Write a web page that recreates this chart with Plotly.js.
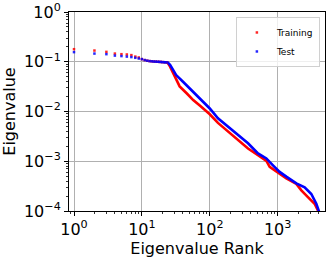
<!DOCTYPE html>
<html>
<head>
<meta charset="utf-8">
<script src="https://cdn.plot.ly/plotly-3.0.1.min.js"></script>
<style>html,body{margin:0;padding:0;background:#fff;}#chart{width:332px;height:260px;}</style>
</head>
<body>
<div id="chart"></div>
<script>
// Leading (sparse) eigenvalues, ranks 1..23
var headRanks = [1,2,3,4,5,6,7,8,9,10,11,12,13,14,15,16,17,18,19,20,21,22,23];
var trainHead = [0.179,0.168,0.158,0.146,0.142,0.140,0.136,0.127,0.122,0.113,0.108,0.105,0.103,0.102,0.101,0.1005,0.100,0.0995,0.099,0.0985,0.098,0.0978,0.0975];
var testHead  = [0.156,0.146,0.142,0.133,0.130,0.127,0.124,0.120,0.116,0.113,0.108,0.105,0.103,0.102,0.101,0.1005,0.100,0.0995,0.099,0.0985,0.098,0.0978,0.0975];

// Dense tail
var trainTailRanks = [23,24,26,31,36,46,57,72,90,100,132,186,261,366,513,682,763,957,1342,1884,2233,2790,3499,3916,4150];
var trainTail      = [0.0975,0.095,0.080,0.050,0.032,0.023,0.017,0.0130,0.0102,0.0088,0.0059,0.0039,0.0027,0.0018,0.00133,0.00102,0.00077,0.00061,0.00045,0.00035,0.00026,0.00019,0.00014,0.000103,0.00008];
var testTailRanks  = [23,24,26,32,40,51,64,80,100,132,186,261,366,513,682,853,1069,1342,1884,2495,3131,3710,4150];
var testTail       = [0.0975,0.097,0.087,0.054,0.040,0.029,0.021,0.0155,0.0115,0.0073,0.0049,0.0034,0.0023,0.00144,0.00114,0.00083,0.00061,0.00049,0.00036,0.00030,0.00022,0.00014,0.00009];

var xTickVals = [1,10,100,1000];
var xTickText = ['10<sup>0</sup>','10<sup>1</sup>','10<sup>2</sup>','10<sup>3</sup>'];
var yTickVals = [1e-4,1e-3,1e-2,1e-1,1];
var yTickText = ['10<sup>−4</sup>','10<sup>−3</sup>','10<sup>−2</sup>','10<sup>−1</sup>','10<sup>0</sup>'];

var RED = '#ff0000', BLUE = '#0000ff';
var font = 'DejaVu Sans, sans-serif';

var traces = [
  {x: trainTailRanks, y: trainTail, mode: 'lines', line: {color: RED, width: 2.6}, showlegend: false, hoverinfo: 'skip'},
  {x: testTailRanks, y: testTail, mode: 'lines', line: {color: BLUE, width: 2.6}, showlegend: false, hoverinfo: 'skip'},
  {x: headRanks, y: trainHead, mode: 'markers', name: 'Training', marker: {color: RED, size: 2.5, symbol: 'square', opacity: 0.85}},
  {x: headRanks, y: testHead, mode: 'markers', name: 'Test', marker: {color: BLUE, size: 2.5, symbol: 'square', opacity: 0.85}}
];

var axisCommon = {
  type: 'log',
  showline: true, mirror: true, linecolor: '#000', linewidth: 1,
  ticks: 'outside', ticklen: 4, tickwidth: 1, tickcolor: '#000',
  showgrid: true, gridcolor: '#b0b0b0', gridwidth: 1,
  zeroline: false,
  tickfont: {family: font, size: 16, color: '#000'},
  minor: {ticks: 'outside', ticklen: 2, tickwidth: 0.8, tickcolor: '#000', showgrid: false, dtick: 'D1'},
  tickmode: 'array'
};

var layout = {
  width: 332, height: 260,
  margin: {l: 69, r: 7, t: 12, b: 49},
  paper_bgcolor: '#fff', plot_bgcolor: '#fff',
  font: {family: font, color: '#000'},
  xaxis: Object.assign({}, axisCommon, {
    range: [Math.log10(0.844), Math.log10(4980)],
    tickvals: xTickVals, ticktext: xTickText,
    title: {text: 'Eigenvalue Rank', font: {family: font, size: 16, color: '#000'}, standoff: 4}
  }),
  yaxis: Object.assign({}, axisCommon, {
    range: [-4, 0],
    tickvals: yTickVals, ticktext: yTickText,
    title: {text: 'Eigenvalue', font: {family: font, size: 16, color: '#000'}, standoff: 8}
  }),
  legend: {
    x: 0.98, y: 0.975, xanchor: 'right', yanchor: 'top',
    bgcolor: 'rgba(255,255,255,0.8)', bordercolor: '#d0d0d0', borderwidth: 1,
    font: {family: font, size: 9, color: '#000'},
    itemwidth: 30, tracegroupgap: 0
  },
  showlegend: true
};

Plotly.newPlot('chart', traces, layout, {staticPlot: true, displayModeBar: false});
</script>
</body>
</html>
